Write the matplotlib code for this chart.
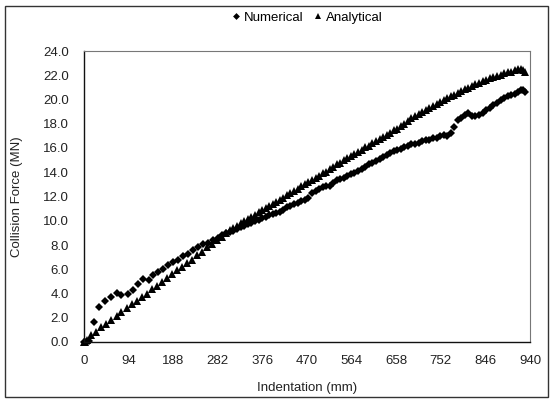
import matplotlib
matplotlib.use("Agg")
import matplotlib.pyplot as plt
from matplotlib.patches import Rectangle

plt.rcParams['font.family'] = ['Liberation Sans', 'DejaVu Sans']

# Numerical (FE simulation) series
num_x = [0, 5, 10, 22, 32, 44, 56, 69, 79, 92, 104, 114, 125, 136, 146, 157, 167, 178,
         188, 198, 209, 219, 230, 240, 251, 261, 272, 282, 291,
         300, 308, 315, 323, 330, 338, 345, 353, 360, 368, 375, 383, 390, 398, 405, 413,
         420, 428, 435, 443, 450, 458, 465, 473, 480, 488, 495, 503, 510, 518, 525, 533,
         540, 548, 555, 563, 570, 578, 585, 593, 600, 608, 615, 623, 630, 638, 645, 653,
         660, 668, 675, 683, 690, 698, 705, 713, 720, 728, 735, 743, 750, 758, 765, 773,
         780, 788, 795, 803, 810, 818, 825, 833, 840, 848, 855, 863, 870, 878, 885, 893,
         900, 908, 915, 921, 926, 930]
num_y = [0.0, 0.0, 0.05, 1.67, 2.91, 3.41, 3.68, 4.07, 3.85, 4.0, 4.3, 4.75, 5.17, 5.1, 5.5,
         5.8, 6.0, 6.35, 6.6, 6.75, 7.1, 7.25, 7.6, 7.8, 8.1, 8.2, 8.4, 8.6, 8.8,
         8.95, 9.05, 9.15, 9.3, 9.45, 9.55, 9.7, 9.85, 9.95, 10.05, 10.2, 10.3, 10.45,
         10.55, 10.6, 10.75, 10.9, 11.15, 11.25, 11.35, 11.5, 11.6, 11.75, 11.9, 12.3,
         12.45, 12.6, 12.8, 12.85, 12.9, 13.1, 13.35, 13.45, 13.55, 13.7, 13.85, 13.95,
         14.1, 14.25, 14.45, 14.65, 14.8, 14.95, 15.1, 15.25, 15.45, 15.6, 15.75, 15.85,
         15.95, 16.05, 16.2, 16.3, 16.35, 16.45, 16.55, 16.65, 16.7, 16.8, 16.85, 17.0,
         17.1, 16.95, 17.2, 17.75, 18.3, 18.5, 18.75, 18.9, 18.65, 18.6, 18.7, 18.9,
         19.1, 19.3, 19.55, 19.7, 19.95, 20.15, 20.25, 20.35, 20.45, 20.6, 20.8, 20.75,
         20.65]

# Analytical series
ana_x = [0, 3, 6, 15, 25, 35, 46, 57, 69, 79, 90, 102, 112, 123, 133, 144, 154, 165, 175,
         186, 196, 207, 217, 228, 238, 249, 259, 270, 280, 291,
         300, 308, 315, 323, 330, 338, 345, 353, 360, 368, 375, 383, 390, 398, 405, 413,
         420, 428, 435, 443, 450, 458, 465, 473, 480, 488, 495, 503, 510, 518, 525, 533,
         540, 548, 555, 563, 570, 578, 585, 593, 600, 608, 615, 623, 630, 638, 645, 653,
         660, 668, 675, 683, 690, 698, 705, 713, 720, 728, 735, 743, 750, 758, 765, 773,
         780, 788, 795, 803, 810, 818, 825, 833, 840, 848, 855, 863, 870, 878, 885, 893,
         900, 908, 915, 921, 926, 930]
ana_y = [0.0, 0.0, 0.16, 0.58, 0.85, 1.21, 1.48, 1.81, 2.14, 2.45, 2.78, 3.1, 3.4, 3.7,
         4.0, 4.35, 4.65, 4.95, 5.25, 5.6, 5.9, 6.2, 6.5, 6.8, 7.15, 7.45, 7.8, 8.1, 8.4,
         8.7,
         9.0, 9.2, 9.4, 9.6, 9.8, 9.95, 10.15, 10.3, 10.5, 10.7, 10.85, 11.05, 11.2, 11.4,
         11.55, 11.75, 11.9, 12.1, 12.25, 12.45, 12.65, 12.85, 13.0, 13.2, 13.35, 13.55,
         13.7, 13.9, 14.05, 14.3, 14.45, 14.65, 14.8, 15.0, 15.15, 15.35, 15.5, 15.7,
         15.85, 16.05, 16.2, 16.4, 16.55, 16.75, 16.9, 17.1, 17.25, 17.45, 17.6, 17.8,
         17.95, 18.25, 18.45, 18.6, 18.8, 18.95, 19.15, 19.3, 19.5, 19.65, 19.8, 19.95,
         20.1, 20.25, 20.4, 20.55, 20.7, 20.85, 20.95, 21.1, 21.25, 21.35, 21.5, 21.6,
         21.75, 21.85, 21.95, 22.05, 22.15, 22.25, 22.3, 22.4, 22.5, 22.55, 22.45, 22.3]

x_ticks = [0, 94, 188, 282, 376, 470, 564, 658, 752, 846, 940]
y_ticks = [0.0, 2.0, 4.0, 6.0, 8.0, 10.0, 12.0, 14.0, 16.0, 18.0, 20.0, 22.0, 24.0]

FS = 9.5
fig = plt.figure(figsize=(5.52, 4.0), dpi=100)
fig.patch.set_facecolor('white')
ax = fig.add_axes([84/552, 1-342/400, 446/552, 291/400])

ax.plot(num_x, num_y, linestyle='none', marker='D', markersize=4.1, color='black',
        markeredgewidth=0, label='Numerical', clip_on=False)
ax.plot(ana_x, ana_y, linestyle='none', marker='^', markersize=5.1, color='black',
        markeredgewidth=0, label='Analytical', clip_on=False)

ax.set_xlim(0, 940)
ax.set_ylim(0, 24)
ax.set_xticks(x_ticks)
ax.set_xticklabels([str(t) for t in x_ticks])
ax.set_yticks(y_ticks)
ax.set_yticklabels(['%.1f' % t for t in y_ticks])
ax.tick_params(axis='both', length=0, labelsize=FS, colors='#222222')
ax.tick_params(axis='y', pad=11)
ax.tick_params(axis='x', pad=9)

for s in ['left', 'bottom']:
    ax.spines[s].set_color('#111111')
    ax.spines[s].set_linewidth(1.0)
for s in ['top', 'right']:
    ax.spines[s].set_color('#777777')
    ax.spines[s].set_linewidth(0.8)

ax.set_xlabel('Indentation (mm)', fontsize=FS, color='#222222')
ax.xaxis.set_label_coords(0.5, -0.136)
ax.set_ylabel('Collision Force (MN)', fontsize=FS, color='#222222')
ax.yaxis.set_label_coords(-0.137, 0.5)

ax.legend(loc='center', bbox_to_anchor=(306/552, 1-18/400), bbox_transform=fig.transFigure,
          ncol=2, frameon=False, fontsize=FS, handletextpad=0.1, columnspacing=0.6,
          handlelength=1.0, markerscale=0.85)

fig.patches.append(Rectangle((5/552, 3/400), 543/552, 391/400, transform=fig.transFigure,
                             fill=False, edgecolor='#333333', linewidth=1.0))

fig.savefig('out.png', dpi=100, facecolor='white')
